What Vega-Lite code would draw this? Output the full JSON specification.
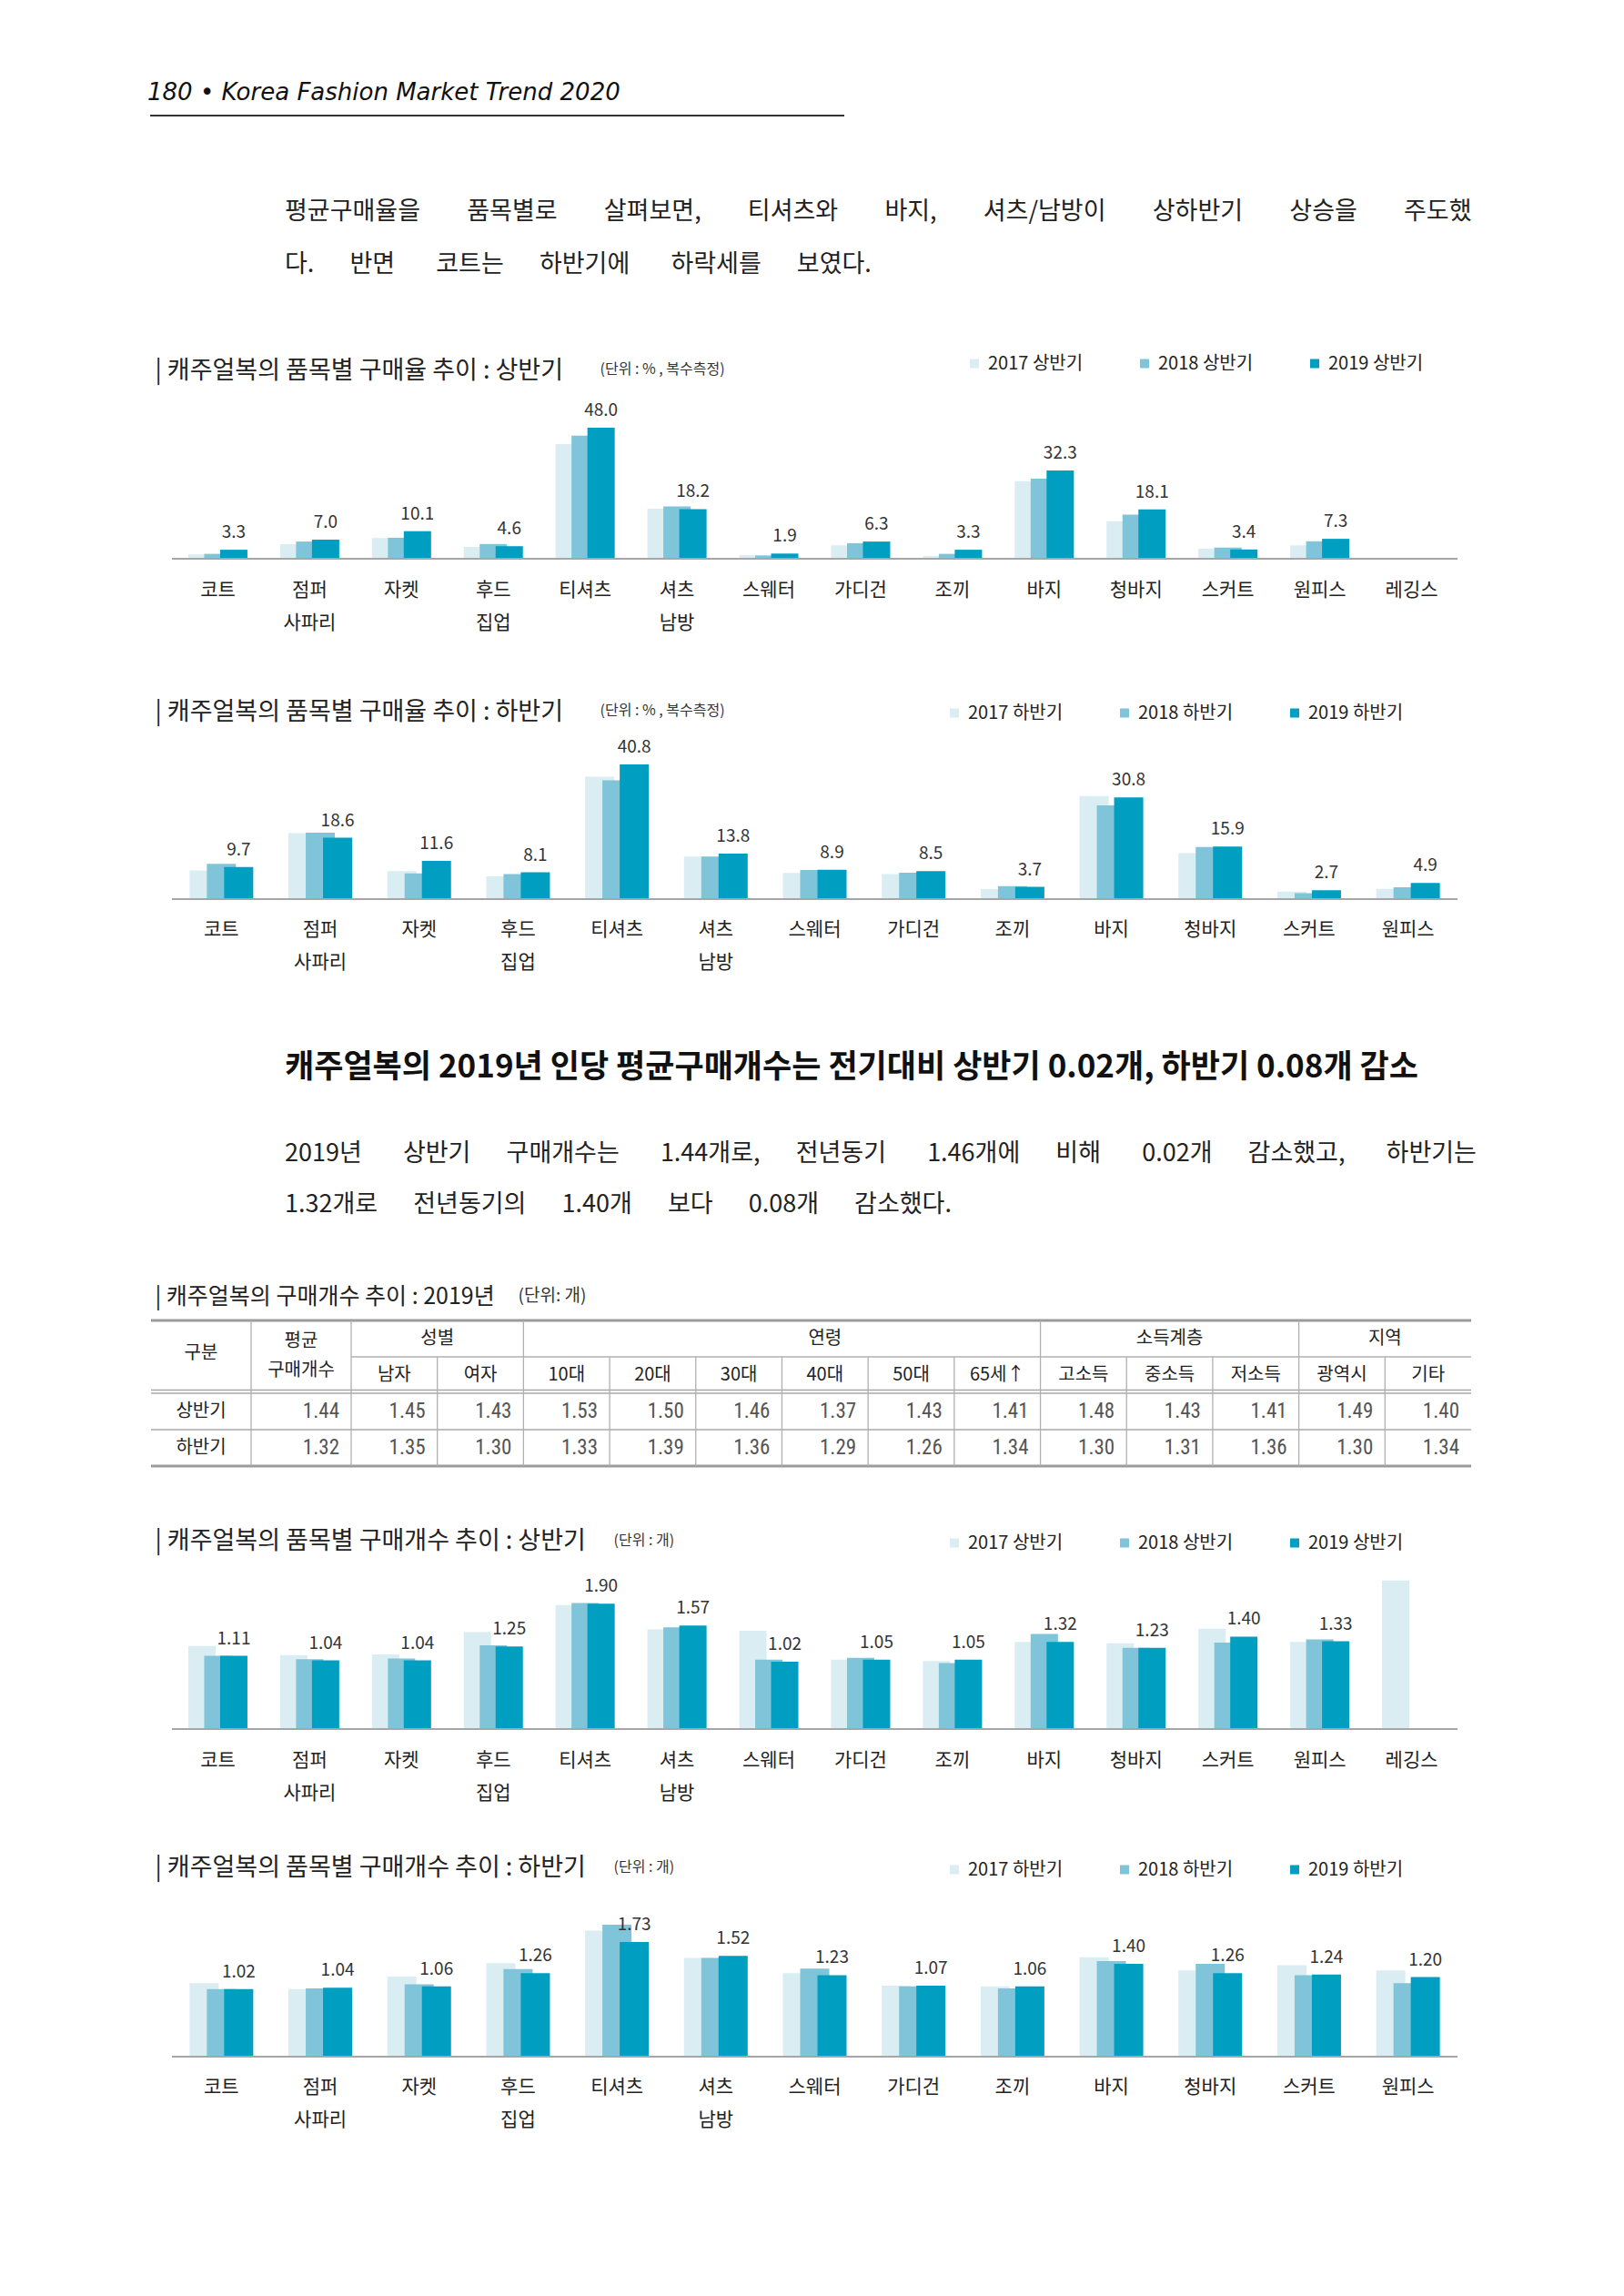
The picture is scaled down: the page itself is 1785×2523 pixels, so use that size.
{
  "$schema": "https://vega.github.io/schema/vega-lite/v6.json",
  "padding": {"left": 161, "top": 88, "right": 60, "bottom": 40},
  "background": "white",
  "spacing": 0,
  "bounds": "flush",
  "resolve": {"scale": {"color": "independent"}},
  "config": {
    "view": {"stroke": null},
    "font": "Noto Sans CJK KR",
    "axis": {"titleLimit": 3000, "labelLimit": 600}
  },
  "datasets": {
    "c1": [
      {"item": "코트", "y17": 1.6, "y18": 1.8, "y19": 3.3},
      {"item": "점퍼/사파리", "y17": 5.3, "y18": 6.3, "y19": 7.0},
      {"item": "자켓", "y17": 7.6, "y18": 7.7, "y19": 10.1},
      {"item": "후드/집업", "y17": 4.3, "y18": 5.4, "y19": 4.6},
      {"item": "티셔츠", "y17": 42.0, "y18": 45.1, "y19": 48.0},
      {"item": "셔츠/남방", "y17": 18.3, "y18": 19.2, "y19": 18.2},
      {"item": "스웨터", "y17": 1.3, "y18": 1.2, "y19": 1.9},
      {"item": "가디건", "y17": 4.9, "y18": 5.7, "y19": 6.3},
      {"item": "조끼", "y17": 1.0, "y18": 1.8, "y19": 3.3},
      {"item": "바지", "y17": 28.4, "y18": 29.3, "y19": 32.3},
      {"item": "청바지", "y17": 13.7, "y18": 16.2, "y19": 18.1},
      {"item": "스커트", "y17": 3.7, "y18": 4.1, "y19": 3.4},
      {"item": "원피스", "y17": 4.9, "y18": 6.4, "y19": 7.3}
    ],
    "c2": [
      {"item": "코트", "y17": 8.7, "y18": 10.7, "y19": 9.7},
      {"item": "점퍼/사파리", "y17": 20.0, "y18": 20.1, "y19": 18.6},
      {"item": "자켓", "y17": 8.5, "y18": 7.8, "y19": 11.6},
      {"item": "후드/집업", "y17": 6.9, "y18": 7.6, "y19": 8.1},
      {"item": "티셔츠", "y17": 37.1, "y18": 36.0, "y19": 40.8},
      {"item": "셔츠/남방", "y17": 12.9, "y18": 12.9, "y19": 13.8},
      {"item": "스웨터", "y17": 7.9, "y18": 8.8, "y19": 8.9},
      {"item": "가디건", "y17": 7.6, "y18": 8.0, "y19": 8.5},
      {"item": "조끼", "y17": 3.0, "y18": 3.9, "y19": 3.7},
      {"item": "바지", "y17": 31.2, "y18": 28.4, "y19": 30.8},
      {"item": "청바지", "y17": 13.9, "y18": 15.8, "y19": 15.9},
      {"item": "스커트", "y17": 2.3, "y18": 1.8, "y19": 2.7},
      {"item": "원피스", "y17": 3.1, "y18": 3.6, "y19": 4.9}
    ],
    "c3": [
      {"item": "코트", "y17": 1.26, "y18": 1.11, "y19": 1.11},
      {"item": "점퍼/사파리", "y17": 1.12, "y18": 1.06, "y19": 1.04},
      {"item": "자켓", "y17": 1.13, "y18": 1.07, "y19": 1.04},
      {"item": "후드/집업", "y17": 1.47, "y18": 1.27, "y19": 1.25},
      {"item": "티셔츠", "y17": 1.88, "y18": 1.91, "y19": 1.90},
      {"item": "셔츠/남방", "y17": 1.51, "y18": 1.54, "y19": 1.57},
      {"item": "스웨터", "y17": 1.49, "y18": 1.05, "y19": 1.02},
      {"item": "가디건", "y17": 1.05, "y18": 1.08, "y19": 1.05},
      {"item": "조끼", "y17": 1.03, "y18": 1.00, "y19": 1.05},
      {"item": "바지", "y17": 1.32, "y18": 1.44, "y19": 1.32},
      {"item": "청바지", "y17": 1.30, "y18": 1.23, "y19": 1.23},
      {"item": "스커트", "y17": 1.52, "y18": 1.31, "y19": 1.40},
      {"item": "원피스", "y17": 1.32, "y18": 1.36, "y19": 1.33},
      {"item": "레깅스", "y17": 2.25}
    ],
    "c4": [
      {"item": "코트", "y17": 1.11, "y18": 1.02, "y19": 1.02},
      {"item": "점퍼/사파리", "y17": 1.02, "y18": 1.03, "y19": 1.04},
      {"item": "자켓", "y17": 1.21, "y18": 1.09, "y19": 1.06},
      {"item": "후드/집업", "y17": 1.41, "y18": 1.32, "y19": 1.26},
      {"item": "티셔츠", "y17": 1.90, "y18": 1.99, "y19": 1.73},
      {"item": "셔츠/남방", "y17": 1.49, "y18": 1.49, "y19": 1.52},
      {"item": "스웨터", "y17": 1.26, "y18": 1.33, "y19": 1.23},
      {"item": "가디건", "y17": 1.07, "y18": 1.06, "y19": 1.07},
      {"item": "조끼", "y17": 1.06, "y18": 1.03, "y19": 1.06},
      {"item": "바지", "y17": 1.50, "y18": 1.44, "y19": 1.40},
      {"item": "청바지", "y17": 1.30, "y18": 1.40, "y19": 1.26},
      {"item": "스커트", "y17": 1.38, "y18": 1.23, "y19": 1.24},
      {"item": "원피스", "y17": 1.30, "y18": 1.11, "y19": 1.20}
    ],
    "tblNums": [
      {"row": "r1", "col": "남자", "v": 1.45}, {"row": "r1", "col": "여자", "v": 1.43},
      {"row": "r1", "col": "10대", "v": 1.53}, {"row": "r1", "col": "20대", "v": 1.50},
      {"row": "r1", "col": "30대", "v": 1.46}, {"row": "r1", "col": "40대", "v": 1.37},
      {"row": "r1", "col": "50대", "v": 1.43}, {"row": "r1", "col": "65세↑", "v": 1.41},
      {"row": "r1", "col": "고소득", "v": 1.48}, {"row": "r1", "col": "중소득", "v": 1.43},
      {"row": "r1", "col": "저소득", "v": 1.41}, {"row": "r1", "col": "광역시", "v": 1.49},
      {"row": "r1", "col": "기타", "v": 1.40},
      {"row": "r2", "col": "남자", "v": 1.35}, {"row": "r2", "col": "여자", "v": 1.30},
      {"row": "r2", "col": "10대", "v": 1.33}, {"row": "r2", "col": "20대", "v": 1.39},
      {"row": "r2", "col": "30대", "v": 1.36}, {"row": "r2", "col": "40대", "v": 1.29},
      {"row": "r2", "col": "50대", "v": 1.26}, {"row": "r2", "col": "65세↑", "v": 1.34},
      {"row": "r2", "col": "고소득", "v": 1.30}, {"row": "r2", "col": "중소득", "v": 1.31},
      {"row": "r2", "col": "저소득", "v": 1.36}, {"row": "r2", "col": "광역시", "v": 1.30},
      {"row": "r2", "col": "기타", "v": 1.34}
    ]
  },
  "vconcat": [
    {
      "width": 761,
      "height": 0.01,
      "data": {"values": []},
      "mark": "point",
      "view": {"stroke": "#333", "strokeWidth": 2},
      "title": {
        "text": "180 • Korea Fashion Market Trend 2020",
        "anchor": "start", "frame": "group", "orient": "top", "offset": 12, "dx": -4,
        "font": "DejaVu Sans", "fontSize": 26, "fontStyle": "italic", "fontWeight": "normal", "color": "#111"
      }
    },
    {
      "width": 1459,
      "height": 486,
      "data": {"name": "c1"},
      "title": {
        "text": ["평균구매율을 \u3000\u00a0\u00a0\u00a0품목별로 \u3000\u00a0\u00a0\u00a0살펴보면, \u3000\u00a0\u00a0\u00a0티셔츠와 \u3000\u00a0\u00a0\u00a0바지, \u3000\u00a0\u00a0\u00a0셔츠/남방이 \u3000\u00a0\u00a0\u00a0상하반기 \u3000\u00a0\u00a0\u00a0상승을 \u3000\u00a0\u00a0\u00a0주도했", "다. \u3000\u00a0반면 \u3000\u00a0\u00a0코트는 \u3000\u00a0하반기에 \u3000\u00a0\u00a0하락세를 \u3000\u00a0보였다."],
        "anchor": "start", "frame": "group", "orient": "top", "offset": 0, "dx": 147, "dy": 177,
        "font": "Noto Sans CJK KR", "fontSize": 27, "fontWeight": "normal", "lineHeight": 58, "color": "#222"
      },
      "layer": [
        {
          "mark": {"type": "bar", "width": 30, "xOffset": -17.5},
          "encoding": {
            "x": {
              "field": "item", "type": "nominal",
              "scale": {"type": "band", "domain": ["코트", "점퍼/사파리", "자켓", "후드/집업", "티셔츠", "셔츠/남방", "스웨터", "가디건", "조끼", "바지", "청바지", "스커트", "원피스", "레깅스"], "paddingInner": 0, "paddingOuter": 0.2278},
              "axis": {
                "title": "(단위 : % , 복수측정)", "titleX": 493, "titleY": -209, "titleAlign": "left", "titleBaseline": "middle", "titleAngle": 0,
                "titleFont": "Noto Sans CJK KR", "titleFontSize": 16, "titleFontWeight": "normal", "titleColor": "#333",
                "labelExpr": "split(datum.label, '/')", "labelAngle": 0, "labelFont": "Noto Sans CJK KR", "labelFontSize": 21, "labelColor": "#222",
                "labelLineHeight": 36, "labelPadding": 23, "labelBaseline": "top", "labelOverlap": false,
                "ticks": false, "tickSize": 0, "domain": false, "grid": false
              }
            },
            "y": {
              "field": "y17", "type": "quantitative",
              "scale": {"domain": [0, 162], "nice": false, "zero": true},
              "axis": {
                "title": "| 캐주얼복의 품목별 구매율 추이 : 상반기", "titleX": 4, "titleY": 279, "titleAngle": 0, "titleAlign": "left", "titleBaseline": "middle",
                "titleFont": "Noto Sans CJK KR", "titleFontSize": 27, "titleFontWeight": "normal", "titleColor": "#222",
                "labels": false, "ticks": false, "domain": false, "grid": false
              }
            },
            "color": {
              "datum": "2017 상반기",
              "scale": {"domain": ["2017 상반기", "2018 상반기", "2019 상반기"], "range": ["#d9edf3", "#7fc4d8", "#009fc1"]},
              "legend": {
                "orient": "none", "legendX": 895, "legendY": 261.5, "direction": "horizontal", "title": null,
                "symbolType": "square", "symbolSize": 100, "symbolStrokeWidth": 0,
                "labelFont": "Noto Sans CJK KR", "labelFontSize": 20, "labelColor": "#222", "labelOffset": 5, "columnPadding": 57, "padding": 0, "labelLimit": 300
              }
            }
          }
        },
        {
          "mark": {"type": "bar", "width": 30, "xOffset": 0},
          "encoding": {
            "x": {"field": "item", "type": "nominal"},
            "y": {"field": "y18", "type": "quantitative"},
            "color": {"datum": "2018 상반기", "legend": null}
          }
        },
        {
          "mark": {"type": "bar", "width": 30, "xOffset": 17.5},
          "encoding": {
            "x": {"field": "item", "type": "nominal"},
            "y": {"field": "y19", "type": "quantitative"},
            "color": {"datum": "2019 상반기", "legend": null}
          }
        },
        {
          "mark": {"type": "text", "xOffset": 17.5, "dy": -19, "baseline": "middle", "font": "Noto Sans CJK KR", "fontSize": 19, "color": "#333"},
          "encoding": {
            "x": {"field": "item", "type": "nominal"},
            "y": {"field": "y19", "type": "quantitative"},
            "text": {"field": "y19", "type": "quantitative", "format": ".1f"}
          }
        },
        {
          "data": {"values": [{"line": "baseline"}]},
          "mark": {"type": "rule", "color": "#a6a6a6", "strokeWidth": 2},
          "encoding": {
            "x": {"datum": "코트", "type": "nominal", "bandPosition": 0},
            "x2": {"datum": "레깅스", "bandPosition": 1},
            "y": {"datum": 0, "type": "quantitative"}
          }
        }
      ]
    },
    {
      "width": 1459,
      "height": 374,
      "data": {"name": "c2"},
      "layer": [
        {
          "mark": {"type": "bar", "width": 32, "xOffset": -19},
          "encoding": {
            "x": {
              "field": "item", "type": "nominal",
              "scale": {"type": "band", "domain": ["코트", "점퍼/사파리", "자켓", "후드/집업", "티셔츠", "셔츠/남방", "스웨터", "가디건", "조끼", "바지", "청바지", "스커트", "원피스"], "paddingInner": 0, "paddingOuter": 0.2117},
              "axis": {
                "title": "(단위 : % , 복수측정)", "titleX": 493, "titleY": -208, "titleAlign": "left", "titleBaseline": "middle", "titleAngle": 0,
                "titleFont": "Noto Sans CJK KR", "titleFontSize": 16, "titleFontWeight": "normal", "titleColor": "#333",
                "labelExpr": "split(datum.label, '/')", "labelAngle": 0, "labelFont": "Noto Sans CJK KR", "labelFontSize": 21, "labelColor": "#222",
                "labelLineHeight": 36, "labelPadding": 22, "labelBaseline": "top", "labelOverlap": false,
                "ticks": false, "tickSize": 0, "domain": false, "grid": false
              }
            },
            "y": {
              "field": "y17", "type": "quantitative",
              "scale": {"domain": [0, 103.1], "nice": false, "zero": true},
              "axis": {
                "title": "| 캐주얼복의 품목별 구매율 추이 : 하반기", "titleX": 4, "titleY": 168, "titleAngle": 0, "titleAlign": "left", "titleBaseline": "middle",
                "titleFont": "Noto Sans CJK KR", "titleFontSize": 27, "titleFontWeight": "normal", "titleColor": "#222",
                "labels": false, "ticks": false, "domain": false, "grid": false
              }
            },
            "color": {
              "datum": "2017 하반기",
              "scale": {"domain": ["2017 하반기", "2018 하반기", "2019 하반기"], "range": ["#d9edf3", "#7fc4d8", "#009fc1"]},
              "legend": {
                "orient": "none", "legendX": 873, "legendY": 159.5, "direction": "horizontal", "title": null,
                "symbolType": "square", "symbolSize": 100, "symbolStrokeWidth": 0,
                "labelFont": "Noto Sans CJK KR", "labelFontSize": 20, "labelColor": "#222", "labelOffset": 5, "columnPadding": 57, "padding": 0, "labelLimit": 300
              }
            }
          }
        },
        {
          "mark": {"type": "bar", "width": 32, "xOffset": 0},
          "encoding": {
            "x": {"field": "item", "type": "nominal"},
            "y": {"field": "y18", "type": "quantitative"},
            "color": {"datum": "2018 하반기", "legend": null}
          }
        },
        {
          "mark": {"type": "bar", "width": 32, "xOffset": 19},
          "encoding": {
            "x": {"field": "item", "type": "nominal"},
            "y": {"field": "y19", "type": "quantitative"},
            "color": {"datum": "2019 하반기", "legend": null}
          }
        },
        {
          "mark": {"type": "text", "xOffset": 19, "dy": -19, "baseline": "middle", "font": "Noto Sans CJK KR", "fontSize": 19, "color": "#333"},
          "encoding": {
            "x": {"field": "item", "type": "nominal"},
            "y": {"field": "y19", "type": "quantitative"},
            "text": {"field": "y19", "type": "quantitative", "format": ".1f"}
          }
        },
        {
          "data": {"values": [{"line": "baseline"}]},
          "mark": {"type": "rule", "color": "#a6a6a6", "strokeWidth": 2},
          "encoding": {
            "x": {"datum": "코트", "type": "nominal", "bandPosition": 0},
            "x2": {"datum": "원피스", "bandPosition": 1},
            "y": {"datum": 0, "type": "quantitative"}
          }
        }
      ]
    },
    {
      "width": 1451,
      "height": 463,
      "data": {"values": []},
      "mark": "point",
      "title": {
        "text": "캐주얼복의 2019년 인당 평균구매개수는 전기대비 상반기 0.02개, 하반기 0.08개 감소",
        "subtitle": ["2019년 \u3000\u00a0\u00a0상반기 \u3000\u00a0구매개수는 \u3000\u00a0\u00a01.44개로, \u3000\u00a0전년동기 \u3000\u00a0\u00a01.46개에 \u3000\u00a0비해 \u3000\u00a0\u00a00.02개 \u3000\u00a0감소했고, \u3000\u00a0\u00a0하반기는", "1.32개로 \u3000\u00a0전년동기의 \u3000\u00a01.40개 \u3000\u00a0보다 \u3000\u00a00.08개 \u3000\u00a0감소했다."],
        "anchor": "start", "frame": "group", "orient": "top", "offset": 0, "dx": 147, "dy": 349,
        "font": "Noto Sans CJK KR", "fontSize": 35, "fontWeight": "bold", "color": "#111",
        "subtitleFont": "Noto Sans CJK KR", "subtitleFontSize": 27, "subtitleColor": "#222", "subtitleLineHeight": 56, "subtitlePadding": 64
      }
    },
    {
      "width": 1451,
      "height": 160,
      "resolve": {"scale": {"x": "independent"}},
      "layer": [
        {
          "data": {"values": [{"row": "h1"}]},
          "mark": {"type": "rule", "color": "#9b9b9b", "strokeWidth": 3},
          "encoding": {
            "y": {
              "field": "row", "type": "nominal", "bandPosition": 0,
              "scale": {"type": "band", "domain": ["h1", "h2", "r1", "r2"], "paddingInner": 0, "paddingOuter": 0},
              "axis": {
                "title": "| 캐주얼복의 구매개수 추이 : 2019년", "titleX": 4, "titleY": -27, "titleAngle": 0, "titleAlign": "left", "titleBaseline": "middle",
                "titleFont": "Noto Sans CJK KR", "titleFontSize": 25, "titleFontWeight": "normal", "titleColor": "#222",
                "labels": false, "ticks": false, "domain": false, "grid": false
              }
            }
          }
        },
        {
          "data": {"values": [{"row": "r2"}]},
          "mark": {"type": "rule", "color": "#9b9b9b", "strokeWidth": 3},
          "encoding": {"y": {"field": "row", "type": "nominal", "bandPosition": 1}}
        },
        {
          "data": {"values": [{"row": "r1"}, {"row": "r2"}]},
          "mark": {"type": "rule", "color": "#a8a8a8", "strokeWidth": 1.3},
          "encoding": {"y": {"field": "row", "type": "nominal", "bandPosition": 0}}
        },
        {
          "data": {"values": [{"row": "r1"}]},
          "mark": {"type": "rule", "color": "#a8a8a8", "strokeWidth": 1.3, "yOffset": -3.5},
          "encoding": {"y": {"field": "row", "type": "nominal", "bandPosition": 0}}
        },
        {
          "data": {"values": [{"row": "h2"}]},
          "mark": {"type": "rule", "color": "#b0b0b0", "strokeWidth": 1.3},
          "encoding": {
            "x": {"datum": "남자", "type": "nominal", "bandPosition": 0, "axis": null,
                  "scale": {"type": "band", "domain": ["남자", "여자", "10대", "20대", "30대", "40대", "50대", "65세↑", "고소득", "중소득", "저소득", "광역시", "기타"], "range": [220, 1451], "paddingInner": 0, "paddingOuter": 0}},
            "x2": {"datum": "기타", "bandPosition": 1},
            "y": {"field": "row", "type": "nominal", "bandPosition": 0}
          }
        },
        {
          "data": {"values": [{"col": "남자"}, {"col": "10대"}, {"col": "고소득"}, {"col": "광역시"}]},
          "mark": {"type": "rule", "color": "#b0b0b0", "strokeWidth": 1.3},
          "encoding": {
            "x": {"field": "col", "type": "nominal", "bandPosition": 0, "axis": null,
                  "scale": {"type": "band", "domain": ["남자", "여자", "10대", "20대", "30대", "40대", "50대", "65세↑", "고소득", "중소득", "저소득", "광역시", "기타"], "range": [220, 1451], "paddingInner": 0, "paddingOuter": 0}},
            "y": {"datum": "h1", "type": "nominal", "bandPosition": 0},
            "y2": {"datum": "r2", "bandPosition": 1}
          }
        },
        {
          "data": {"values": [{"col": "여자"}, {"col": "20대"}, {"col": "30대"}, {"col": "40대"}, {"col": "50대"}, {"col": "65세↑"}, {"col": "중소득"}, {"col": "저소득"}, {"col": "기타"}]},
          "mark": {"type": "rule", "color": "#b0b0b0", "strokeWidth": 1.3},
          "encoding": {
            "x": {"field": "col", "type": "nominal", "bandPosition": 0, "axis": null,
                  "scale": {"type": "band", "domain": ["남자", "여자", "10대", "20대", "30대", "40대", "50대", "65세↑", "고소득", "중소득", "저소득", "광역시", "기타"], "range": [220, 1451], "paddingInner": 0, "paddingOuter": 0}},
            "y": {"datum": "h2", "type": "nominal", "bandPosition": 0},
            "y2": {"datum": "r2", "bandPosition": 1}
          }
        },
        {
          "data": {"values": [{"col": "평균"}]},
          "mark": {"type": "rule", "color": "#b0b0b0", "strokeWidth": 1.3},
          "encoding": {
            "x": {"field": "col", "type": "nominal", "bandPosition": 0, "axis": null,
                  "scale": {"type": "band", "domain": ["구분", "평균"], "range": [0, 220], "paddingInner": 0, "paddingOuter": 0}},
            "y": {"datum": "h1", "type": "nominal", "bandPosition": 0},
            "y2": {"datum": "r2", "bandPosition": 1}
          }
        },
        {
          "data": {"values": [{"label": "성별", "at": "남자"}, {"label": "지역", "at": "광역시"}]},
          "mark": {"type": "text", "baseline": "middle", "align": "center", "font": "Noto Sans CJK KR", "fontSize": 20, "color": "#222"},
          "encoding": {
            "x": {"field": "at", "type": "nominal", "bandPosition": 1, "axis": null,
                  "scale": {"type": "band", "domain": ["남자", "여자", "10대", "20대", "30대", "40대", "50대", "65세↑", "고소득", "중소득", "저소득", "광역시", "기타"], "range": [220, 1451], "paddingInner": 0, "paddingOuter": 0}},
            "y": {"datum": "h1", "type": "nominal"},
            "text": {"field": "label"}
          }
        },
        {
          "data": {"values": [{"label": "연령", "at": "40대"}, {"label": "소득계층", "at": "중소득"}]},
          "mark": {"type": "text", "baseline": "middle", "align": "center", "font": "Noto Sans CJK KR", "fontSize": 20, "color": "#222"},
          "encoding": {
            "x": {"field": "at", "type": "nominal", "axis": null,
                  "scale": {"type": "band", "domain": ["남자", "여자", "10대", "20대", "30대", "40대", "50대", "65세↑", "고소득", "중소득", "저소득", "광역시", "기타"], "range": [220, 1451], "paddingInner": 0, "paddingOuter": 0}},
            "y": {"datum": "h1", "type": "nominal"},
            "text": {"field": "label"}
          }
        },
        {
          "data": {"values": [{"col": "남자"}, {"col": "여자"}, {"col": "10대"}, {"col": "20대"}, {"col": "30대"}, {"col": "40대"}, {"col": "50대"}, {"col": "65세↑"}, {"col": "고소득"}, {"col": "중소득"}, {"col": "저소득"}, {"col": "광역시"}, {"col": "기타"}]},
          "mark": {"type": "text", "baseline": "middle", "align": "center", "font": "Noto Sans CJK KR", "fontSize": 20, "color": "#222"},
          "encoding": {
            "x": {"field": "col", "type": "nominal", "axis": null,
                  "scale": {"type": "band", "domain": ["남자", "여자", "10대", "20대", "30대", "40대", "50대", "65세↑", "고소득", "중소득", "저소득", "광역시", "기타"], "range": [220, 1451], "paddingInner": 0, "paddingOuter": 0}},
            "y": {"datum": "h2", "type": "nominal"},
            "text": {"field": "col"}
          }
        },
        {
          "data": {"name": "tblNums"},
          "mark": {"type": "text", "baseline": "middle", "align": "right", "dx": -13, "font": "Liberation Sans Narrow, Roboto Condensed, Roboto, sans-serif", "fontSize": 23, "color": "#555"},
          "encoding": {
            "x": {"field": "col", "type": "nominal", "bandPosition": 1, "axis": null,
                  "scale": {"type": "band", "domain": ["남자", "여자", "10대", "20대", "30대", "40대", "50대", "65세↑", "고소득", "중소득", "저소득", "광역시", "기타"], "range": [220, 1451], "paddingInner": 0, "paddingOuter": 0}},
            "y": {"field": "row", "type": "nominal"},
            "text": {"field": "v", "type": "quantitative", "format": ".2f"}
          }
        },
        {
          "data": {"values": [{"col": "구분", "label": "구분"}]},
          "mark": {"type": "text", "baseline": "middle", "align": "center", "dy": -4, "font": "Noto Sans CJK KR", "fontSize": 20, "color": "#222"},
          "encoding": {
            "x": {"field": "col", "type": "nominal",
                  "scale": {"type": "band", "domain": ["구분", "평균"], "range": [0, 220], "paddingInner": 0, "paddingOuter": 0},
                  "axis": {
                    "title": "(단위: 개)", "titleX": 403, "titleY": -188, "titleAlign": "left", "titleBaseline": "middle", "titleAngle": 0,
                    "titleFont": "Noto Sans CJK KR", "titleFontSize": 19, "titleFontWeight": "normal", "titleColor": "#333",
                    "labels": false, "ticks": false, "domain": false, "grid": false
                  }},
            "y": {"datum": "h1", "type": "nominal", "bandPosition": 1},
            "text": {"field": "label"}
          }
        },
        {
          "data": {"values": [{"col": "평균", "label": ["평균", "구매개수"]}]},
          "mark": {"type": "text", "baseline": "middle", "align": "center", "dy": -17, "lineHeight": 32, "font": "Noto Sans CJK KR", "fontSize": 20, "color": "#222"},
          "encoding": {
            "x": {"field": "col", "type": "nominal", "axis": null,
                  "scale": {"type": "band", "domain": ["구분", "평균"], "range": [0, 220], "paddingInner": 0, "paddingOuter": 0}},
            "y": {"datum": "h1", "type": "nominal", "bandPosition": 1},
            "text": {"field": "label"}
          }
        },
        {
          "data": {"values": [{"row": "r1", "label": "상반기"}, {"row": "r2", "label": "하반기"}]},
          "mark": {"type": "text", "baseline": "middle", "align": "center", "font": "Noto Sans CJK KR", "fontSize": 20, "color": "#222"},
          "encoding": {
            "x": {"datum": "구분", "type": "nominal", "axis": null,
                  "scale": {"type": "band", "domain": ["구분", "평균"], "range": [0, 220], "paddingInner": 0, "paddingOuter": 0}},
            "y": {"field": "row", "type": "nominal"},
            "text": {"field": "label"}
          }
        },
        {
          "data": {"values": [{"row": "r1", "v": 1.44}, {"row": "r2", "v": 1.32}]},
          "mark": {"type": "text", "baseline": "middle", "align": "right", "dx": -13, "font": "Liberation Sans Narrow, Roboto Condensed, Roboto, sans-serif", "fontSize": 23, "color": "#555"},
          "encoding": {
            "x": {"datum": "평균", "type": "nominal", "bandPosition": 1, "axis": null,
                  "scale": {"type": "band", "domain": ["구분", "평균"], "range": [0, 220], "paddingInner": 0, "paddingOuter": 0}},
            "y": {"field": "row", "type": "nominal"},
            "text": {"field": "v", "type": "quantitative", "format": ".2f"}
          }
        }
      ]
    },
    {
      "width": 1459,
      "height": 289,
      "data": {"name": "c3"},
      "layer": [
        {
          "mark": {"type": "bar", "width": 30, "xOffset": -17.5},
          "encoding": {
            "x": {
              "field": "item", "type": "nominal",
              "scale": {"type": "band", "domain": ["코트", "점퍼/사파리", "자켓", "후드/집업", "티셔츠", "셔츠/남방", "스웨터", "가디건", "조끼", "바지", "청바지", "스커트", "원피스", "레깅스"], "paddingInner": 0, "paddingOuter": 0.2278},
              "axis": {
                "title": "(단위 : 개)", "titleX": 508, "titleY": -208, "titleAlign": "left", "titleBaseline": "middle", "titleAngle": 0,
                "titleFont": "Noto Sans CJK KR", "titleFontSize": 16, "titleFontWeight": "normal", "titleColor": "#333",
                "labelExpr": "split(datum.label, '/')", "labelAngle": 0, "labelFont": "Noto Sans CJK KR", "labelFontSize": 21, "labelColor": "#222",
                "labelLineHeight": 36, "labelPadding": 23, "labelBaseline": "top", "labelOverlap": false,
                "ticks": false, "tickSize": 0, "domain": false, "grid": false
              }
            },
            "y": {
              "field": "y17", "type": "quantitative",
              "scale": {"domain": [0, 3.986], "nice": false, "zero": true},
              "axis": {
                "title": "| 캐주얼복의 품목별 구매개수 추이 : 상반기", "titleX": 4, "titleY": 82, "titleAngle": 0, "titleAlign": "left", "titleBaseline": "middle",
                "titleFont": "Noto Sans CJK KR", "titleFontSize": 27, "titleFontWeight": "normal", "titleColor": "#222",
                "labels": false, "ticks": false, "domain": false, "grid": false
              }
            },
            "color": {
              "datum": "2017 상반기",
              "scale": {"domain": ["2017 상반기", "2018 상반기", "2019 상반기"], "range": ["#d9edf3", "#7fc4d8", "#009fc1"]},
              "legend": {
                "orient": "none", "legendX": 873, "legendY": 74.5, "direction": "horizontal", "title": null,
                "symbolType": "square", "symbolSize": 100, "symbolStrokeWidth": 0,
                "labelFont": "Noto Sans CJK KR", "labelFontSize": 20, "labelColor": "#222", "labelOffset": 5, "columnPadding": 57, "padding": 0, "labelLimit": 300
              }
            }
          }
        },
        {
          "mark": {"type": "bar", "width": 30, "xOffset": 0},
          "encoding": {
            "x": {"field": "item", "type": "nominal"},
            "y": {"field": "y18", "type": "quantitative"},
            "color": {"datum": "2018 상반기", "legend": null}
          }
        },
        {
          "mark": {"type": "bar", "width": 30, "xOffset": 17.5},
          "encoding": {
            "x": {"field": "item", "type": "nominal"},
            "y": {"field": "y19", "type": "quantitative"},
            "color": {"datum": "2019 상반기", "legend": null}
          }
        },
        {
          "mark": {"type": "text", "xOffset": 17.5, "dy": -19, "baseline": "middle", "font": "Noto Sans CJK KR", "fontSize": 19, "color": "#333"},
          "encoding": {
            "x": {"field": "item", "type": "nominal"},
            "y": {"field": "y19", "type": "quantitative"},
            "text": {"field": "y19", "type": "quantitative", "format": ".2f"}
          }
        },
        {
          "data": {"values": [{"line": "baseline"}]},
          "mark": {"type": "rule", "color": "#a6a6a6", "strokeWidth": 2},
          "encoding": {
            "x": {"datum": "코트", "type": "nominal", "bandPosition": 0},
            "x2": {"datum": "레깅스", "bandPosition": 1},
            "y": {"datum": 0, "type": "quantitative"}
          }
        }
      ]
    },
    {
      "width": 1459,
      "height": 360,
      "data": {"name": "c4"},
      "layer": [
        {
          "mark": {"type": "bar", "width": 32, "xOffset": -19},
          "encoding": {
            "x": {
              "field": "item", "type": "nominal",
              "scale": {"type": "band", "domain": ["코트", "점퍼/사파리", "자켓", "후드/집업", "티셔츠", "셔츠/남방", "스웨터", "가디건", "조끼", "바지", "청바지", "스커트", "원피스"], "paddingInner": 0, "paddingOuter": 0.2117},
              "axis": {
                "title": "(단위 : 개)", "titleX": 508, "titleY": -209, "titleAlign": "left", "titleBaseline": "middle", "titleAngle": 0,
                "titleFont": "Noto Sans CJK KR", "titleFontSize": 16, "titleFontWeight": "normal", "titleColor": "#333",
                "labelExpr": "split(datum.label, '/')", "labelAngle": 0, "labelFont": "Noto Sans CJK KR", "labelFontSize": 21, "labelColor": "#222",
                "labelLineHeight": 36, "labelPadding": 22, "labelBaseline": "top", "labelOverlap": false,
                "ticks": false, "tickSize": 0, "domain": false, "grid": false
              }
            },
            "y": {
              "field": "y17", "type": "quantitative",
              "scale": {"domain": [0, 4.943], "nice": false, "zero": true},
              "axis": {
                "title": "| 캐주얼복의 품목별 구매개수 추이 : 하반기", "titleX": 4, "titleY": 152, "titleAngle": 0, "titleAlign": "left", "titleBaseline": "middle",
                "titleFont": "Noto Sans CJK KR", "titleFontSize": 27, "titleFontWeight": "normal", "titleColor": "#222",
                "labels": false, "ticks": false, "domain": false, "grid": false
              }
            },
            "color": {
              "datum": "2017 하반기",
              "scale": {"domain": ["2017 하반기", "2018 하반기", "2019 하반기"], "range": ["#d9edf3", "#7fc4d8", "#009fc1"]},
              "legend": {
                "orient": "none", "legendX": 873, "legendY": 144.5, "direction": "horizontal", "title": null,
                "symbolType": "square", "symbolSize": 100, "symbolStrokeWidth": 0,
                "labelFont": "Noto Sans CJK KR", "labelFontSize": 20, "labelColor": "#222", "labelOffset": 5, "columnPadding": 57, "padding": 0, "labelLimit": 300
              }
            }
          }
        },
        {
          "mark": {"type": "bar", "width": 32, "xOffset": 0},
          "encoding": {
            "x": {"field": "item", "type": "nominal"},
            "y": {"field": "y18", "type": "quantitative"},
            "color": {"datum": "2018 하반기", "legend": null}
          }
        },
        {
          "mark": {"type": "bar", "width": 32, "xOffset": 19},
          "encoding": {
            "x": {"field": "item", "type": "nominal"},
            "y": {"field": "y19", "type": "quantitative"},
            "color": {"datum": "2019 하반기", "legend": null}
          }
        },
        {
          "mark": {"type": "text", "xOffset": 19, "dy": -19, "baseline": "middle", "font": "Noto Sans CJK KR", "fontSize": 19, "color": "#333"},
          "encoding": {
            "x": {"field": "item", "type": "nominal"},
            "y": {"field": "y19", "type": "quantitative"},
            "text": {"field": "y19", "type": "quantitative", "format": ".2f"}
          }
        },
        {
          "data": {"values": [{"line": "baseline"}]},
          "mark": {"type": "rule", "color": "#a6a6a6", "strokeWidth": 2},
          "encoding": {
            "x": {"datum": "코트", "type": "nominal", "bandPosition": 0},
            "x2": {"datum": "원피스", "bandPosition": 1},
            "y": {"datum": 0, "type": "quantitative"}
          }
        }
      ]
    }
  ]
}
